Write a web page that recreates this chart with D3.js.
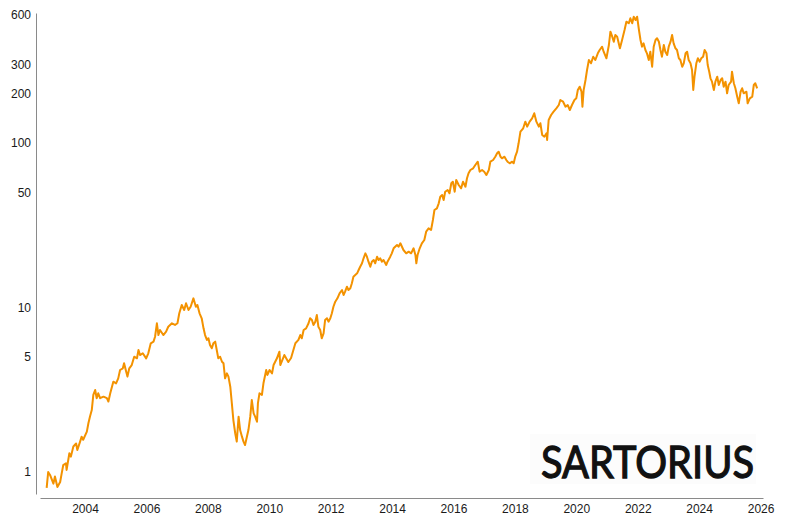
<!DOCTYPE html>
<html><head><meta charset="utf-8">
<script src="https://cdn.jsdelivr.net/npm/d3@7"></script>
<style>
html,body{margin:0;padding:0;background:#fff;}
svg{display:block;}
</style></head>
<body>
<svg id="chart" width="800" height="520"></svg>
<script>
// Decimal years
const years = [
2002.75,2002.80,2002.86,2002.97,2003.02,2003.10,2003.19,2003.24,2003.29,2003.38,
2003.40,2003.49,2003.54,2003.62,2003.71,2003.75,2003.84,2003.89,2003.94,2004.06,
2004.11,2004.16,2004.22,2004.27,2004.33,2004.38,2004.43,2004.49,2004.60,2004.71,
2004.76,2004.82,2004.92,2005.01,2005.08,2005.14,2005.23,2005.27,2005.34,2005.38,
2005.44,2005.52,2005.60,2005.69,2005.74,2005.79,2005.88,2005.99,2006.06,2006.14,
2006.23,2006.28,2006.34,2006.39,2006.44,2006.55,2006.64,2006.71,2006.83,2006.93,
2007.01,2007.07,2007.15,2007.23,2007.29,2007.37,2007.44,2007.53,2007.61,2007.66,
2007.73,2007.80,2007.86,2007.91,2007.97,2008.02,2008.07,2008.13,2008.18,2008.24,
2008.29,2008.34,2008.40,2008.46,2008.51,2008.56,2008.62,2008.67,2008.73,2008.78,
2008.83,2008.89,2008.94,2009.00,2009.05,2009.11,2009.16,2009.21,2009.27,2009.32,
2009.38,2009.43,2009.49,2009.54,2009.60,2009.63,2009.68,2009.76,2009.81,2009.90,
2009.94,2010.01,2010.09,2010.14,2010.25,2010.33,2010.36,2010.49,2010.62,2010.71,
2010.85,2010.95,2011.01,2011.06,2011.12,2011.20,2011.28,2011.33,2011.39,2011.44,
2011.50,2011.55,2011.60,2011.66,2011.71,2011.77,2011.82,2011.88,2011.93,2011.99,
2012.04,2012.09,2012.15,2012.22,2012.29,2012.37,2012.42,2012.47,2012.53,2012.58,
2012.64,2012.69,2012.74,2012.80,2012.86,2012.91,2012.96,2013.02,2013.07,2013.13,
2013.18,2013.23,2013.29,2013.34,2013.40,2013.45,2013.51,2013.56,2013.61,2013.67,
2013.72,2013.81,2013.85,2013.94,2013.99,2014.05,2014.10,2014.16,2014.21,2014.27,
2014.37,2014.46,2014.54,2014.62,2014.70,2014.76,2014.79,2014.83,2014.90,2014.97,
2015.05,2015.11,2015.19,2015.27,2015.33,2015.38,2015.46,2015.52,2015.57,2015.63,
2015.68,2015.73,2015.81,2015.87,2015.93,2015.98,2016.04,2016.09,2016.17,2016.25,
2016.31,2016.39,2016.44,2016.49,2016.55,2016.64,2016.71,2016.79,2016.85,2016.93,
2017.00,2017.07,2017.15,2017.20,2017.29,2017.36,2017.42,2017.47,2017.53,2017.58,
2017.66,2017.72,2017.76,2017.83,2017.91,2017.96,2018.01,2018.07,2018.12,2018.18,
2018.27,2018.34,2018.40,2018.48,2018.56,2018.63,2018.70,2018.78,2018.83,2018.89,
2018.96,2019.03,2019.05,2019.10,2019.18,2019.26,2019.35,2019.43,2019.48,2019.57,
2019.65,2019.72,2019.79,2019.86,2019.94,2020.00,2020.05,2020.11,2020.17,2020.20,
2020.24,2020.30,2020.35,2020.41,2020.48,2020.55,2020.62,2020.70,2020.76,2020.84,
2020.89,2020.98,2021.06,2021.11,2021.17,2021.22,2021.27,2021.33,2021.42,2021.49,
2021.57,2021.63,2021.71,2021.76,2021.82,2021.87,2021.93,2021.98,2022.04,2022.09,
2022.14,2022.19,2022.25,2022.30,2022.36,2022.41,2022.47,2022.52,2022.58,2022.63,
2022.69,2022.74,2022.79,2022.85,2022.90,2022.96,2023.01,2023.07,2023.12,2023.17,
2023.23,2023.28,2023.34,2023.39,2023.45,2023.50,2023.56,2023.61,2023.66,2023.72,
2023.77,2023.81,2023.85,2023.91,2023.96,2024.02,2024.07,2024.13,2024.18,2024.24,
2024.28,2024.33,2024.37,2024.42,2024.48,2024.53,2024.59,2024.64,2024.70,2024.75,
2024.80,2024.86,2024.91,2024.96,2025.04,2025.07,2025.13,2025.18,2025.24,2025.29,
2025.35,2025.40,2025.45,2025.54,2025.58,2025.65,2025.73,2025.78,2025.83,2025.89
];
// Share price
const prices = [
0.80,1.00,0.96,0.85,0.94,0.81,0.87,0.98,1.10,1.13,
1.03,1.30,1.24,1.43,1.49,1.36,1.53,1.64,1.57,1.76,
1.98,2.17,2.38,2.94,3.15,2.81,3.01,2.81,2.87,2.81,
2.68,3.01,3.54,3.46,3.71,4.17,4.27,4.58,4.07,3.80,
4.27,4.47,5.02,4.91,5.52,5.14,5.27,4.91,5.27,6.06,
6.20,6.64,8.02,6.80,7.30,6.80,7.13,7.64,8.02,7.83,
8.02,9.22,10.36,9.66,10.61,9.66,10.11,11.37,10.11,10.36,
9.22,8.60,7.47,6.80,6.35,6.50,5.92,5.65,6.06,6.20,
5.52,4.91,5.02,4.68,4.58,3.71,3.98,3.80,3.30,2.62,
2.07,1.72,1.53,2.17,1.80,1.64,1.53,1.46,1.64,1.80,
2.17,2.74,2.27,2.17,2.02,2.62,3.01,2.94,3.46,4.17,
3.89,4.17,3.98,4.47,4.91,5.39,4.47,5.14,4.66,4.93,
6.06,6.35,6.80,6.50,7.30,7.47,8.02,8.60,8.40,7.83,
8.20,9.00,7.64,7.30,6.50,6.97,8.40,8.60,8.20,8.60,
9.22,10.11,10.85,11.37,12.20,12.78,11.91,12.48,13.38,12.78,
13.09,14.03,15.39,15.76,16.14,16.90,17.70,18.57,19.91,21.35,
20.36,18.99,17.70,18.99,19.45,18.57,20.36,19.45,19.91,18.99,
19.45,18.13,18.99,20.36,21.35,22.90,23.42,23.99,23.42,24.57,
22.36,21.35,21.84,21.35,22.90,20.85,18.57,20.85,22.90,24.57,
25.72,28.90,30.30,29.59,34.03,39.15,40.09,42.98,47.17,48.31,
45.03,50.58,51.80,49.46,56.89,58.18,50.58,59.59,55.55,53.03,
58.18,54.23,61.01,65.42,68.53,70.19,73.52,76.98,66.93,68.53,
66.93,63.92,68.53,76.98,78.84,82.56,86.59,88.55,82.56,80.72,
82.56,78.84,76.98,75.28,76.98,75.28,82.56,88.55,99.6,117.2,
122.9,134.8,125.7,134.8,141.3,151.6,134.8,125.7,131.8,111.8,
109.2,114.6,104.3,138.0,148.0,155.0,162.5,170.2,182.6,178.3,
166.2,170.2,158.7,170.2,182.6,186.9,210.0,219.9,205.0,166.2,
210.0,241.5,277.8,319.6,305.1,334.6,319.6,351.0,367.6,384.9,
358.9,327.3,394.2,474.9,442.9,412.9,453.5,442.9,376.5,422.8,
486.3,546.5,534.4,573.1,534.4,586.0,559.5,586.0,486.3,422.8,
384.9,403.6,367.6,351.0,319.6,358.9,290.9,384.9,422.8,433.1,
412.9,367.6,334.6,394.2,358.9,342.8,384.9,412.9,453.5,403.6,
376.5,367.6,327.3,319.6,290.9,305.1,351.0,358.9,319.6,305.1,
277.8,210.0,252.9,305.1,327.3,312.1,327.3,334.6,367.6,351.0,
298.0,271.3,247.4,235.9,210.0,235.9,252.9,225.2,241.5,247.4,
219.9,235.9,200.5,225.2,235.9,271.3,230.7,215.1,191.2,174.3,
205.0,215.1,200.5,205.0,174.3,186.9,191.2,225.2,230.7,215.1
];
const xTickYears = [2004,2006,2008,2010,2012,2014,2016,2018,2020,2022,2024,2026];
const yTickValues = [1,5,10,50,100,200,300,600];
const logoText = "SARTORIUS";

function decToDate(dy){
  const y = Math.floor(dy);
  const s = Date.UTC(y,0,1), e = Date.UTC(y+1,0,1);
  return new Date(s + (dy - y) * (e - s));
}

const data = years.map((yr,i)=>({date:decToDate(yr), v:prices[i]}));

const svg = d3.select("#chart");

const x = d3.scaleUtc().domain([decToDate(2002.533), decToDate(2026.08)]).range([40, 763]);
const y = d3.scaleLog().domain([0.735, 617]).range([494, 13]);

// very faint logo background
svg.append("rect").attr("x",530).attr("y",434).attr("width",226).attr("height",50)
  .attr("fill","#fcfcfc");

// x axis
const gx = svg.append("g").attr("transform","translate(0,498)")
  .call(d3.axisBottom(x).tickValues(xTickYears.map(v=>decToDate(v)))
    .tickFormat(d3.utcFormat("%Y")).tickSize(0).tickSizeOuter(0).tickPadding(6.5));
// y axis
const gy = svg.append("g").attr("transform","translate(36,0)")
  .call(d3.axisLeft(y).tickValues(yTickValues).tickFormat(d3.format("d"))
    .tickSize(0).tickSizeOuter(0).tickPadding(5));

[gx,gy].forEach(g=>{
  g.select(".domain").attr("stroke","#8a8a8a").attr("stroke-width",1);
  g.selectAll("text").attr("font-family","'Liberation Sans', Arial, sans-serif")
    .attr("font-size",12).attr("fill","#1a1a1a");
});

// line
const line = d3.line().x(d=>x(d.date)).y(d=>y(d.v)).curve(d3.curveLinear);
svg.append("path").datum(data).attr("d",line)
  .attr("fill","none").attr("stroke","#f39200").attr("stroke-width",2)
  .attr("stroke-linejoin","round");

// logo
svg.append("text").attr("x",541).attr("y",478)
  .attr("font-family","Lato, 'Open Sans', sans-serif").attr("font-weight",400)
  .attr("font-size",45).attr("fill","#111").attr("stroke","#111").attr("stroke-width",1.3)
  .attr("textLength",213).attr("lengthAdjust","spacingAndGlyphs")
  .text(logoText);
</script>
</body></html>
